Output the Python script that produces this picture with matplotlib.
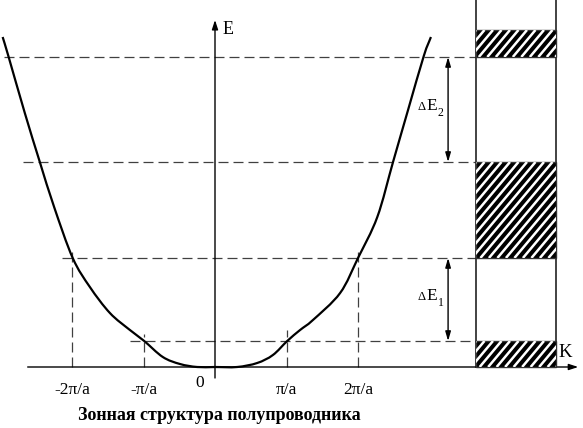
import numpy as np
import matplotlib
matplotlib.use("Agg")
import matplotlib.pyplot as plt
from matplotlib.patches import Rectangle, PathPatch
from matplotlib.path import Path

plt.rcParams['lines.scale_dashes'] = False
SERIF = ['Liberation Serif', 'DejaVu Serif']

# ---------------- data (k in units of pi/a, E in arbitrary units) ----------------
k_curve = [-2.97, -2.89, -2.66, -2.45, -2.25, -1.99, -1.75, -1.47, -1.19, -0.99,
           -0.73, -0.49, -0.25, 0.0, 0.31, 0.59, 0.81, 1.01, 1.19, 1.37, 1.75,
           2.0, 2.27, 2.49, 2.70, 2.92, 3.02]
E_curve = [3.30, 3.11, 2.54, 2.05, 1.60, 1.09, 0.80, 0.54, 0.37, 0.26,
           0.10, 0.03, 0.00, 0.0, 0.00, 0.04, 0.12, 0.26, 0.37, 0.47, 0.74,
           1.09, 1.50, 2.05, 2.57, 3.11, 3.30]

levels = [0.26, 1.09, 2.05, 3.10]          # energy levels of gap edges
level_start_k = [-1.19, -2.14, -2.69, -2.95]

band_bottoms = [0.0, 1.09, 3.10]
band_tops = [0.26, 2.05, 3.37]

tick_k = [-2, -1, 1, 2]
tick_labels = ['-2\u03c0/a', '-\u03c0/a', '\u03c0/a', '2\u03c0/a']
tick_top_E = [1.17, 0.33, 0.37, 1.20]

gap_names = ['1', '2']
gap_lo = [0.26, 2.05]
gap_hi = [1.09, 3.10]

title = 'Зонная структура полупроводника'

# ---------------- figure ----------------
W, H, DPI = 583, 428, 100
fig = plt.figure(figsize=(W / DPI, H / DPI), dpi=DPI)
ax = fig.add_axes([0, 0, 1, 1])
xmin, xmax = -215 / 71.5, (583 - 215) / 71.5
ymin, ymax = -0.61, 3.67
ax.set_xlim(xmin, xmax)
ax.set_ylim(ymin, ymax)
ax.axis('off')
sx = W / (xmax - xmin)   # px per k unit
sy = H / (ymax - ymin)   # px per E unit

box_x0, box_x1 = 3.65, 4.77
arrow_k = 3.26

dash_kw = dict(color='#404040', lw=0.9, dashes=(7.2, 3.6))

# horizontal dashed levels
for e, ks in zip(levels, level_start_k):
    ax.plot([ks, box_x0], [e, e], **dash_kw)
# vertical dashed tick lines
for kk, et in zip(tick_k, tick_top_E):
    ax.plot([kk, kk], [0, et], **dash_kw)

# axes with arrows
ax.annotate('', xy=(0, 3.47), xytext=(0, -0.11),
            arrowprops=dict(arrowstyle='-|>,head_length=0.55,head_width=0.18',
                            lw=1.0, color='black', shrinkA=0, shrinkB=0))
ax.annotate('', xy=(5.08, 0), xytext=(-2.62, 0),
            arrowprops=dict(arrowstyle='-|>,head_length=0.55,head_width=0.18',
                            lw=1.0, color='black', shrinkA=0, shrinkB=0))

# dispersion curve: smooth Bezier path through the read points
P = np.column_stack([np.asarray(k_curve) * sx, np.asarray(E_curve) * sy])
P_ext = np.vstack([P[0] - (P[1] - P[0]), P, P[-1] + (P[-1] - P[-2])])
verts = [P[0]]
codes = [Path.MOVETO]
for i in range(1, len(P_ext) - 2):
    p0, p1, p2, p3 = P_ext[i - 1], P_ext[i], P_ext[i + 1], P_ext[i + 2]
    verts += [p1 + (p2 - p0) / 6.0, p2 - (p3 - p1) / 6.0, p2]
    codes += [Path.CURVE4] * 3
verts = np.array(verts) / np.array([sx, sy])
ax.add_patch(PathPatch(Path(verts, codes), facecolor='none', edgecolor='black',
                       lw=1.6, zorder=5))

# band diagram box
ax.plot([box_x0, box_x0], [0, ymax], color='#222222', lw=1.2)
ax.plot([box_x1, box_x1], [0, ymax], color='#222222', lw=1.2)

theta = np.deg2rad(50)
period_px = 8.5
for b0, b1 in zip(band_bottoms, band_tops):
    rect = Rectangle((box_x0, b0), box_x1 - box_x0, b1 - b0,
                     facecolor='black', edgecolor='#333333', lw=1.0, zorder=3)
    ax.add_patch(rect)
    h_px = (b1 - b0) * sy
    shift = h_px / np.tan(theta)
    x0_px = box_x0 * sx
    x1_px = box_x1 * sx
    c = x0_px - shift
    while c < x1_px + period_px:
        ln, = ax.plot([c / sx, (c + shift) / sx], [b0, b1], color='white',
                      lw=1.8, zorder=4, solid_capstyle='butt')
        ln.set_clip_path(rect)
        c += period_px

# gap arrows and labels
for name, lo, hi in zip(gap_names, gap_lo, gap_hi):
    ax.annotate('', xy=(arrow_k, hi), xytext=(arrow_k, lo),
                arrowprops=dict(arrowstyle='<|-|>,head_length=0.55,head_width=0.16',
                                lw=1.0, color='black', shrinkA=0, shrinkB=0))
    base = (lo + hi) / 2 + 0.02
    ax.text(2.888, base - 0.02, '\u0394', fontsize=9, family=SERIF,
            ha='center', va='baseline')
    ax.text(3.028, base - 0.02, 'E', fontsize=12.5, family=SERIF,
            ha='center', va='baseline')
    ax.text(3.154, base - 0.09, name, fontsize=8.5, family=SERIF,
            ha='center', va='baseline')

# tick labels
for kk, lab in zip(tick_k, tick_labels):
    ax.text(kk, -0.27, lab, fontsize=12.5, family=SERIF, ha='center', va='baseline')
ax.text(-0.21, -0.197, '0', fontsize=12.5, family=SERIF, ha='center', va='baseline')

# axis names
ax.text(4.81, 0.10, 'K', fontsize=13.5, family=SERIF, ha='left', va='baseline')
ax.text(0.112, 3.33, 'E', fontsize=13, family=SERIF, ha='left', va='baseline')

# title
ax.text(0.06, -0.53, title, fontsize=13, family=SERIF, weight='bold',
        ha='center', va='baseline')

fig.savefig('out.png', dpi=DPI)
